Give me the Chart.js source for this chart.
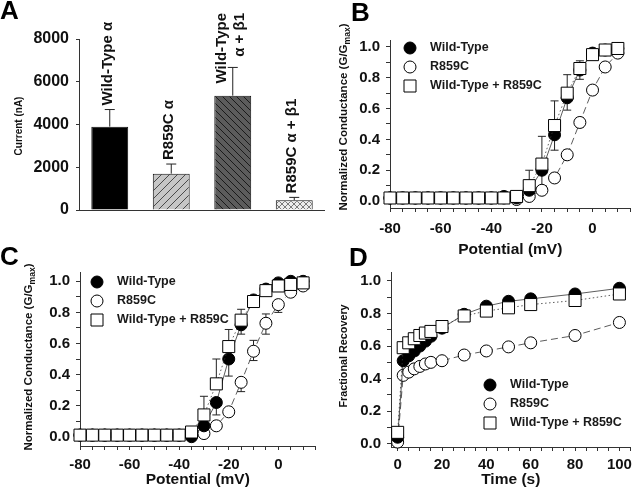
<!DOCTYPE html>
<html>
<head>
<meta charset="utf-8">
<script src="https://cdn.jsdelivr.net/npm/chart.js@4.4.1/dist/chart.umd.min.js"></script>
<style>
  body { margin: 0; background: #fff; }
  #fig { position: relative; width: 640px; height: 496px; overflow: hidden; background: #fff; }
  #fig canvas { position: absolute; }
  .tag { position: absolute; font: bold 26px "Liberation Sans", Arial, sans-serif; line-height: 26px; color: #000; }
</style>
</head>
<body>
<div id="fig">
  <canvas id="chartA" width="325" height="250" style="left:0;top:0"></canvas>
  <canvas id="chartC" width="325" height="246" style="left:0;top:250px"></canvas>
  <canvas id="chartB" width="320" height="262" style="left:320px;top:0"></canvas>
  <canvas id="chartD" width="320" height="246" style="left:320px;top:250px"></canvas>
  <div class="tag" style="left:0;top:-3px">A</div>
  <div class="tag" style="left:351px;top:-1px">B</div>
  <div class="tag" style="left:0;top:243px">C</div>
  <div class="tag" style="left:349px;top:244px">D</div>
</div>
<script>
// ---- panel A : peak current ----
const barLabels = [['Wild-Type α'], ['R859C α'], ['Wild-Type', 'α + β1'], ['R859C α + β1']];
const barValues = [3900, 1700, 5350, 460];
const barErrors = [800, 450, 1320, 130];

// ---- panels B, C : activation curves ----
const seriesNames = ['Wild-Type', 'R859C', 'Wild-Type + R859C'];
const voltages = [-80, -75, -70, -65, -60, -55, -50, -45, -40, -35, -30, -25, -20, -15, -10, -5, 0, 5, 10];

const wtB  = [0.02, 0.02, 0.02, 0.02, 0.02, 0.02, 0.02, 0.02, 0.02, 0.03, 0.02, 0.07, 0.20, 0.43, 0.67, 0.85, 0.96, 0.98, 0.99];
const mutB = [0.02, 0.02, 0.02, 0.02, 0.02, 0.02, 0.02, 0.02, 0.02, 0.02, 0.01, 0.03, 0.07, 0.15, 0.30, 0.51, 0.72, 0.87, 0.96];
const mixB = [0.02, 0.02, 0.02, 0.02, 0.02, 0.02, 0.02, 0.02, 0.02, 0.02, 0.03, 0.10, 0.24, 0.49, 0.70, 0.86, 0.95, 0.98, 0.99];
const wtDownB = [0, 0, 0, 0, 0, 0, 0, 0, 0, 0, 0.01, 0.05, 0.12, 0.10, 0.08, 0.06, 0.02, 0, 0];
const mutErrB = [0, 0, 0, 0, 0, 0, 0, 0, 0, 0, 0, 0, 0.02, 0.03, 0.03, 0.03, 0.03, 0.02, 0];
const mixUpB  = [0, 0, 0, 0, 0, 0, 0, 0, 0, 0, 0.01, 0.10, 0.18, 0.16, 0.12, 0.05, 0.02, 0, 0];

const wtC  = [0.01, 0.01, 0.01, 0.01, 0.01, 0.01, 0.01, 0.01, 0.01, 0.00, 0.07, 0.22, 0.50, 0.72, 0.88, 0.95, 0.99, 1.00, 1.00];
const mutC = [0.01, 0.01, 0.01, 0.01, 0.01, 0.01, 0.01, 0.01, 0.01, 0.01, 0.02, 0.07, 0.16, 0.35, 0.55, 0.73, 0.85, 0.93, 0.97];
const mixC = [0.01, 0.01, 0.01, 0.01, 0.01, 0.01, 0.01, 0.01, 0.01, 0.03, 0.14, 0.34, 0.58, 0.75, 0.87, 0.94, 0.97, 0.98, 0.99];
const wtDownC  = [0, 0, 0, 0, 0, 0, 0, 0, 0, 0, 0.03, 0.08, 0.11, 0.06, 0.03, 0, 0, 0, 0];
const mutUpC   = [0, 0, 0, 0, 0, 0, 0, 0, 0, 0, 0, 0, 0, 0.02, 0.07, 0.06, 0.02, 0, 0];
const mutDownC = [0, 0, 0, 0, 0, 0, 0, 0, 0, 0, 0, 0, 0, 0.06, 0.06, 0.07, 0.05, 0, 0];
const mixUpC   = [0, 0, 0, 0, 0, 0, 0, 0, 0, 0.01, 0.12, 0.16, 0.11, 0.07, 0.03, 0.01, 0, 0, 0];

const potentialTicks = [-80, -75, -70, -65, -60, -55, -50, -45, -40, -35, -30, -25, -20, -15, -10, -5, 0, 5, 10, 15];
const potentialLabels = [-80, -60, -40, -20, 0];
const fractionTicks = [0, 0.1, 0.2, 0.3, 0.4, 0.5, 0.6, 0.7, 0.8, 0.9, 1.0];
const fractionLabels = [0, 0.2, 0.4, 0.6, 0.8, 1.0];

// ---- panel D : recovery ----
const times = [0, 2.5, 5, 7.5, 10, 12.5, 15, 20, 30, 40, 50, 60, 80, 100];
const wtD  = [0.04, 0.51, 0.54, 0.57, 0.60, 0.63, 0.66, 0.71, 0.795, 0.845, 0.875, 0.89, 0.92, 0.955];
const mutD = [0.01, 0.42, 0.44, 0.46, 0.475, 0.49, 0.50, 0.51, 0.545, 0.57, 0.595, 0.62, 0.665, 0.745];
const mixD = [0.07, 0.59, 0.62, 0.645, 0.665, 0.68, 0.69, 0.72, 0.785, 0.815, 0.835, 0.855, 0.88, 0.92];
const timeTicks = [0, 5, 10, 15, 20, 25, 30, 35, 40, 45, 50, 55, 60, 65, 70, 75, 80, 85, 90, 95, 100, 105];
const timeLabels = [0, 20, 40, 60, 80, 100];

// marker / line styles, same order as seriesNames
const markerShape = ['circle', 'circle', 'rect'];
const markerSize = [6, 6, 8.5];
const markerFill = ['#000', '#fff', '#fff'];
const lineDash = [[], [7, 4], [1.5, 2.5]];
const drawOrder = [2, 3, 1];

const FONT = '"Liberation Sans", Arial, Helvetica, sans-serif';
Chart.defaults.font.family = FONT;
Chart.defaults.font.weight = 'bold';
Chart.defaults.color = '#111';
Chart.defaults.animation = false;

function hatch(bg, fg, size, dirs) {
  const c = document.createElement('canvas');
  c.width = c.height = size;
  const g = c.getContext('2d');
  g.fillStyle = bg;
  g.fillRect(0, 0, size, size);
  g.strokeStyle = fg;
  g.lineWidth = 1;
  g.beginPath();
  if (dirs.includes('/')) {
    g.moveTo(0, size); g.lineTo(size, 0);
    g.moveTo(-2, 2); g.lineTo(2, -2);
    g.moveTo(size - 2, size + 2); g.lineTo(size + 2, size - 2);
  }
  if (dirs.includes('\\')) {
    g.moveTo(0, 0); g.lineTo(size, size);
    g.moveTo(size - 2, -2); g.lineTo(size + 2, 2);
    g.moveTo(-2, size - 2); g.lineTo(2, size + 2);
  }
  g.stroke();
  return g.createPattern(c, 'repeat');
}

// rotated axis title, optional subscript
const sideTitle = {
  id: 'sideTitle',
  afterDraw(chart, args, o) {
    if (!o.text) return;
    const ctx = chart.ctx;
    ctx.save();
    ctx.translate(o.x, o.y);
    ctx.rotate(-Math.PI / 2);
    ctx.fillStyle = '#111';
    ctx.textBaseline = 'middle';
    ctx.textAlign = 'left';
    const big = 'bold ' + o.size + 'px ' + FONT;
    const small = 'bold ' + (o.size * 0.75) + 'px ' + FONT;
    const parts = [[o.text, big, 0]];
    if (o.sub) parts.push([o.sub, small, o.size * 0.35], [o.tail, big, 0]);
    let total = 0;
    parts.forEach(p => { ctx.font = p[1]; p.push(ctx.measureText(p[0]).width); total += p[3]; });
    let x = -total / 2;
    parts.forEach(p => { ctx.font = p[1]; ctx.fillText(p[0], x, p[2]); x += p[3]; });
    ctx.restore();
  }
};

// one sided error bars for the curve panels
const errorBars = {
  id: 'errorBars',
  beforeDatasetsDraw(chart) {
    const ctx = chart.ctx, ys = chart.scales.y;
    ctx.save();
    ctx.strokeStyle = '#222';
    ctx.lineWidth = 1;
    chart.data.datasets.forEach((ds, di) => {
      chart.getDatasetMeta(di).data.forEach((pt, i) => {
        const v = ds.data[i].y;
        [[ds.errUp, 1], [ds.errDown, -1]].forEach(([arr, dir]) => {
          if (!arr || !arr[i]) return;
          const y2 = ys.getPixelForValue(v + dir * arr[i]);
          ctx.beginPath();
          ctx.moveTo(pt.x, pt.y); ctx.lineTo(pt.x, y2);
          ctx.moveTo(pt.x - 4, y2); ctx.lineTo(pt.x + 4, y2);
          ctx.stroke();
        });
      });
    });
    ctx.restore();
  }
};

// legend with the plot markers, inside the plot area
const markerLegend = {
  id: 'markerLegend',
  afterDraw(chart, args, o) {
    if (o.dx === undefined) return;
    const {ctx, chartArea} = chart;
    ctx.save();
    chart.data.datasets.forEach((ds, i) => {
      const x = chartArea.left + o.dx, y = chartArea.top + o.dy + i * 19;
      ctx.fillStyle = markerFill[i];
      ctx.strokeStyle = '#000';
      ctx.lineWidth = 1;
      ctx.beginPath();
      if (markerShape[i] === 'rect') ctx.rect(x - 6, y - 6, 12, 12);
      else ctx.arc(x, y, 6, 0, Math.PI * 2);
      ctx.fill();
      ctx.stroke();
      ctx.fillStyle = '#1a1a1a';
      ctx.font = 'bold 12.5px ' + FONT;
      ctx.textAlign = 'left';
      ctx.textBaseline = 'middle';
      ctx.fillText(ds.label, x + 20, y);
    });
    ctx.restore();
  }
};

// error bars and vertical labels for the bar panel
const barTags = {
  id: 'barTags',
  afterDatasetsDraw(chart) {
    const ctx = chart.ctx, ys = chart.scales.y;
    const bars = chart.getDatasetMeta(0).data;
    ctx.save();
    bars.forEach((bar, i) => {
      const top = ys.getPixelForValue(barValues[i] + barErrors[i]);
      ctx.strokeStyle = '#222';
      ctx.lineWidth = 1;
      ctx.beginPath();
      ctx.moveTo(bar.x, bar.y); ctx.lineTo(bar.x, top);
      ctx.moveTo(bar.x - 5, top); ctx.lineTo(bar.x + 5, top);
      ctx.stroke();

      const lines = barLabels[i];
      ctx.font = 'bold 15px ' + FONT;
      ctx.fillStyle = '#111';
      ctx.textBaseline = 'middle';
      lines.forEach((t, j) => {
        const x = bar.x - 2 + (j - (lines.length - 1) / 2) * 18;
        ctx.save();
        if (lines.length > 1) {
          ctx.translate(x, chart.chartArea.top - 26);
          ctx.rotate(-Math.PI / 2);
          ctx.textAlign = 'right';
        } else {
          ctx.translate(x, top - 4);
          ctx.rotate(-Math.PI / 2);
          ctx.textAlign = 'left';
        }
        ctx.fillText(t, 0, 0);
        ctx.restore();
      });
    });
    ctx.restore();
  }
};

new Chart(document.getElementById('chartA'), {
  type: 'bar',
  data: {
    labels: barLabels.map(l => l.join(' ')),
    datasets: [{
      data: barValues,
      backgroundColor: [
        '#000',
        hatch('#c6c6c6', '#4a4a4a', 8, '/'),
        hatch('#5c5c5c', '#1a1a1a', 7, '\\'),
        hatch('#ececec', '#7a7a7a', 6, '/\\')
      ],
      borderColor: '#111',
      borderWidth: 1,
      barPercentage: 0.6,
      categoryPercentage: 1
    }]
  },
  options: {
    responsive: false,
    devicePixelRatio: 1,
    layout: { padding: { top: 39, left: 0, right: 0, bottom: 0 } },
    plugins: {
      legend: { display: false },
      tooltip: { enabled: false },
      sideTitle: { text: 'Current (nA)', x: 19, y: 126, size: 10 }
    },
    scales: {
      x: {
        afterFit: s => { s.height = 40; },
        ticks: { display: false },
        grid: { display: false },
        border: { display: true, color: '#333', width: 1 }
      },
      y: {
        min: 0, max: 8000,
        afterFit: s => { s.width = 79; },
        ticks: { stepSize: 2000, padding: 7, font: { size: 16 }, callback: v => String(v) },
        grid: { display: true, drawOnChartArea: false, tickLength: 3, color: '#333' },
        border: { display: true, color: '#333', width: 1 }
      }
    }
  },
  plugins: [barTags, sideTitle]
});

function curvePanel(id, o) {
  return new Chart(document.getElementById(id), {
    type: 'line',
    data: {
      datasets: o.series.map((s, i) => ({
        label: seriesNames[i],
        data: o.x.map((v, k) => ({ x: v, y: s[k] })),
        errUp: o.up[i],
        errDown: o.down[i],
        borderColor: '#333',
        borderWidth: 0.8,
        borderDash: lineDash[i],
        pointStyle: markerShape[i],
        pointRadius: markerSize[i],
        pointBackgroundColor: markerFill[i],
        pointBorderColor: '#000',
        pointBorderWidth: 1,
        order: drawOrder[i],
        clip: false,
        tension: 0
      }))
    },
    options: {
      responsive: false,
      devicePixelRatio: 1,
      layout: { padding: { top: o.top, left: 0, right: o.right, bottom: 0 } },
      plugins: {
        legend: { display: false },
        tooltip: { enabled: false },
        markerLegend: o.legend,
        sideTitle: o.yTitle
      },
      scales: {
        x: {
          type: 'linear', min: o.xMin, max: o.xMax,
          afterBuildTicks: s => { s.ticks = o.xTicks.map(v => ({ value: v })); },
          afterFit: s => { s.height = o.xH; },
          ticks: {
            autoSkip: false, maxRotation: 0, padding: o.xPad, font: { size: 15 },
            callback: v => (o.xLabels.includes(v) ? String(v) : '')
          },
          grid: { display: true, drawOnChartArea: false, tickLength: 4, color: '#333' },
          border: { display: true, color: '#333', width: 1 },
          title: { display: true, text: o.xTitle, font: { size: 15.5 }, padding: { top: 0, bottom: o.titlePad } }
        },
        y: {
          min: o.yMin, max: o.yMax,
          afterBuildTicks: s => { s.ticks = fractionTicks.map(v => ({ value: v })); },
          afterFit: s => { s.width = o.yW; },
          ticks: {
            autoSkip: false, padding: 6, font: { size: 15 },
            callback: v => (fractionLabels.some(l => Math.abs(l - v) < 1e-6) ? v.toFixed(1) : '')
          },
          grid: { display: true, drawOnChartArea: false, tickLength: 4, color: '#333' },
          border: { display: true, color: '#333', width: 1 }
        }
      }
    },
    plugins: [errorBars, markerLegend, sideTitle]
  });
}

curvePanel('chartB', {
  x: voltages, series: [wtB, mutB, mixB],
  up: [null, mutErrB, mixUpB], down: [wtDownB, mutErrB, null],
  xMin: -80, xMax: 15, xTicks: potentialTicks, xLabels: potentialLabels,
  yMin: -0.045, yMax: 1.045,
  top: 40, right: 4, yW: 70, xH: 54, xPad: 8, titlePad: 3,
  xTitle: 'Potential (mV)',
  legend: { dx: 20, dy: 8 },
  yTitle: { text: 'Normalized Conductance (G/G', sub: 'max', tail: ')', x: 24, y: 117, size: 11.5 }
});

curvePanel('chartC', {
  x: voltages, series: [wtC, mutC, mixC],
  up: [null, mutUpC, mixUpC], down: [wtDownC, mutDownC, null],
  xMin: -80, xMax: 15, xTicks: potentialTicks, xLabels: potentialLabels,
  yMin: -0.06, yMax: 1.06,
  top: 22, right: 2, yW: 80, xH: 50, xPad: 6, titlePad: 7,
  xTitle: 'Potential (mV)',
  legend: { dx: 17, dy: 10 },
  yTitle: { text: 'Normalized Conductance (G/G', sub: 'max', tail: ')', x: 29, y: 107, size: 11.5 }
});

curvePanel('chartD', {
  x: times, series: [wtD, mutD, mixD],
  up: [null, null, null], down: [null, null, null],
  xMin: -3, xMax: 105, xTicks: timeTicks, xLabels: timeLabels,
  yMin: -0.02, yMax: 1.055,
  top: 22, right: 0, yW: 71, xH: 49, xPad: 5, titlePad: 7,
  xTitle: 'Time (s)',
  legend: { dx: 99, dy: 113 },
  yTitle: { text: 'Fractional Recovery', x: 24, y: 106, size: 10.8 }
});
</script>
</body>
</html>
